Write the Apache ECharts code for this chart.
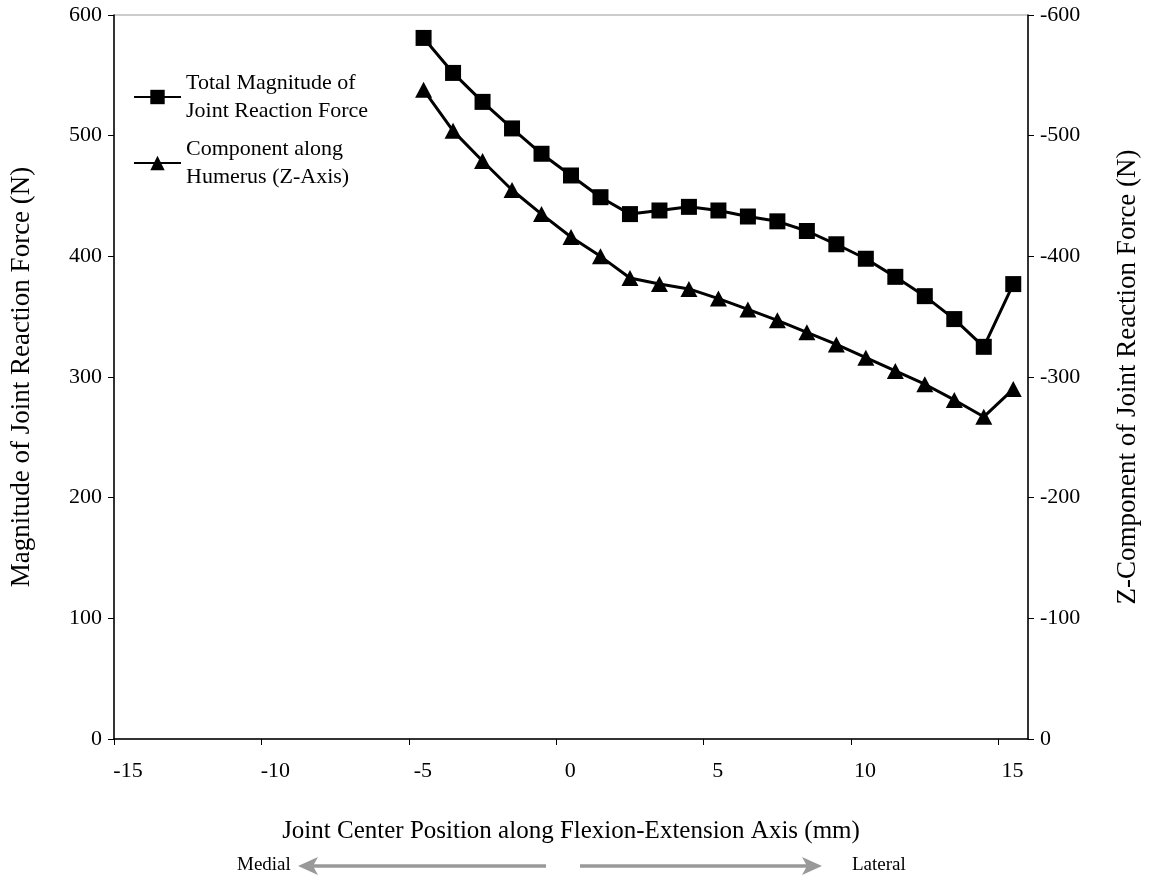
<!DOCTYPE html>
<html>
<head>
<meta charset="utf-8">
<script src="https://cdn.jsdelivr.net/npm/echarts@6/dist/echarts.min.js"></script>
<style>
html, body { margin: 0; padding: 0; background: #fff; }
#main { width: 1149px; height: 880px; }
</style>
</head>
<body>
<div id="main"></div>
<script>
// joint center position (mm)
var positions = [-4.5, -3.5, -2.5, -1.5, -0.5, 0.5, 1.5, 2.5, 3.5, 4.5, 5.5,
    6.5, 7.5, 8.5, 9.5, 10.5, 11.5, 12.5, 13.5, 14.5, 15.5];
// total magnitude of joint reaction force (N), left axis
var totalMagnitude = [581, 552, 528, 506, 485, 467, 449, 435, 438, 441, 438,
    433, 429, 421, 410, 398, 383, 367, 348, 325, 377];
// z-component along humerus (N), right axis
var zComponent = [-538, -504, -479, -455, -435, -416, -400, -382, -377, -373, -365,
    -356, -347, -337, -327, -316, -305, -294, -281, -267, -290];

var seriesNames = ['Total Magnitude of\nJoint Reaction Force', 'Component along\nHumerus (Z-Axis)'];

function pairs(xs, ys) {
    return xs.map(function (x, i) { return [x, ys[i]]; });
}

var font = 'Liberation Serif';

(function () {
    var myChart = echarts.init(document.getElementById('main'));

    var option = {
        backgroundColor: '#fff',
        textStyle: { fontFamily: font, color: '#000' },
        animation: false,
        grid: {
            left: 113,
            right: 118,
            top: 15,
            bottom: 141,
            show: true,
            borderColor: '#999',
            borderWidth: 1
        },
        legend: {
            orient: 'vertical',
            left: 133,
            top: 55,
            padding: 0,
            itemWidth: 47,
            itemHeight: 18,
            itemGap: -18,
            textStyle: {
                fontFamily: font,
                fontSize: 22,
                color: '#000',
                lineHeight: 28,
                padding: [28, 0, 0, 0]
            },
            data: seriesNames
        },
        xAxis: {
            type: 'value',
            min: -15,
            max: 16,
            interval: 5,
            name: 'Joint Center Position along Flexion-Extension Axis (mm)',
            nameLocation: 'middle',
            nameGap: 80,
            nameTextStyle: { fontFamily: font, fontSize: 25, color: '#000' },
            axisLine: { onZero: false, lineStyle: { color: '#000', width: 1.5 } },
            axisTick: { length: 6, lineStyle: { color: '#000' } },
            axisLabel: {
                showMaxLabel: false,
                fontFamily: font,
                fontSize: 22,
                color: '#000',
                margin: 21,
                padding: [0, 0, 0, 28]
            },
            splitLine: { show: false }
        },
        yAxis: [
            {
                type: 'value',
                min: 0,
                max: 600,
                interval: 100,
                position: 'left',
                name: 'Magnitude of Joint Reaction Force (N)',
                nameLocation: 'middle',
                nameGap: 79,
                nameRotate: 90,
                nameTextStyle: { fontFamily: font, fontSize: 27, color: '#000' },
                axisLine: { show: true, onZero: false, lineStyle: { color: '#000', width: 1.5 } },
                axisTick: { show: true, length: 6, lineStyle: { color: '#000' } },
                axisLabel: { fontFamily: font, fontSize: 22, color: '#000', margin: 12 },
                splitLine: { show: false }
            },
            {
                type: 'value',
                min: -600,
                max: 0,
                interval: 100,
                inverse: true,
                position: 'right',
                name: 'Z-Component of Joint Reaction Force (N)',
                nameLocation: 'middle',
                nameGap: 86,
                nameRotate: 90,
                nameTextStyle: { fontFamily: font, fontSize: 27, color: '#000' },
                axisLine: { show: true, onZero: false, lineStyle: { color: '#000', width: 1.5 } },
                axisTick: { show: true, length: 6, lineStyle: { color: '#000' } },
                axisLabel: { fontFamily: font, fontSize: 22, color: '#000', margin: 12 },
                splitLine: { show: false }
            }
        ],
        series: [
            {
                name: seriesNames[0],
                type: 'line',
                yAxisIndex: 0,
                symbol: 'rect',
                symbolSize: 16,
                color: '#000',
                lineStyle: { color: '#000', width: 3 },
                itemStyle: { color: '#000' },
                data: pairs(positions, totalMagnitude)
            },
            {
                name: seriesNames[1],
                type: 'line',
                yAxisIndex: 1,
                symbol: 'triangle',
                symbolSize: [17, 16],
                color: '#000',
                lineStyle: { color: '#000', width: 3 },
                itemStyle: { color: '#000' },
                data: pairs(positions, zComponent)
            }
        ],
        graphic: [
            {
                type: 'text',
                left: 237,
                top: 856,
                style: { text: 'Medial', font: '19px "Liberation Serif"', fill: '#000' }
            },
            {
                type: 'line',
                shape: { x1: 312, y1: 866, x2: 546, y2: 866 },
                style: { stroke: '#999', lineWidth: 3.5 }
            },
            {
                type: 'polygon',
                shape: { points: [[298, 866], [318, 857], [313, 866], [318, 875]] },
                style: { fill: '#999' }
            },
            {
                type: 'line',
                shape: { x1: 580, y1: 866, x2: 808, y2: 866 },
                style: { stroke: '#999', lineWidth: 3.5 }
            },
            {
                type: 'polygon',
                shape: { points: [[822, 866], [802, 857], [807, 866], [802, 875]] },
                style: { fill: '#999' }
            },
            {
                type: 'text',
                left: 852,
                top: 856,
                style: { text: 'Lateral', font: '19px "Liberation Serif"', fill: '#000' }
            }
        ]
    };

    window.addEventListener('resize', function () {
        myChart.resize();
    });

    myChart.setOption(option);
})();
</script>
</body>
</html>
